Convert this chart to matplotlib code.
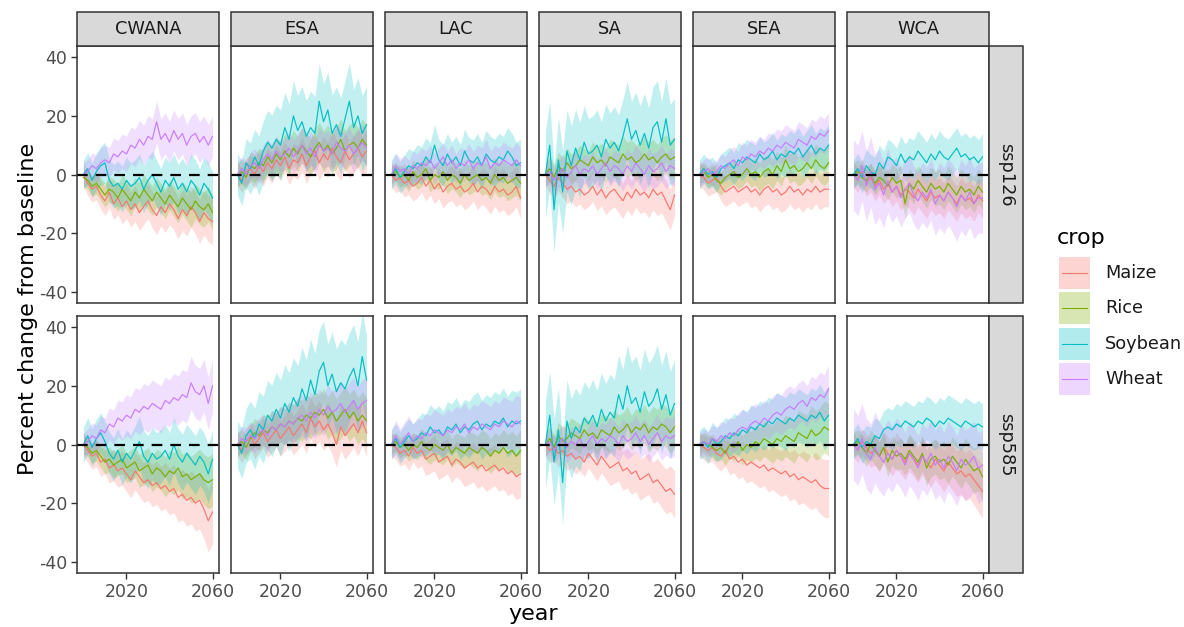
import numpy as np
import matplotlib
matplotlib.use("Agg")
import matplotlib.pyplot as plt
from matplotlib.patches import Rectangle

plt.rcParams['font.family'] = ['DejaVu Sans']
plt.rcParams['axes.unicode_minus'] = False

regions = ["CWANA", "ESA", "LAC", "SA", "SEA", "WCA"]
scenarios = ["ssp126", "ssp585"]
crops = ["Maize", "Rice", "Soybean", "Wheat"]
crop_colors = ["#F8766D", "#7CAE00", "#00BFC4", "#C77CFF"]

# mean values, every 2 years from 2000 to 2060
years = list(range(2000, 2061, 2))
# ribbon half-widths given once per decade
hw_years = [2000, 2010, 2020, 2030, 2040, 2050, 2060]

# ---- ssp126 ----
cwana126_maize = [0, -3, -5, -4, -7, -9, -6, -10, -8, -11, -9, -12, -10, -13, -11, -9, -12, -14, -11, -13, -10, -12, -15, -12, -14, -11, -13, -16, -13, -15, -16]
cwana126_rice = [-1, -2, -4, -3, -5, -7, -5, -6, -8, -5, -7, -9, -6, -8, -5, -7, -9, -6, -8, -10, -7, -9, -11, -8, -10, -12, -9, -11, -12, -10, -13]
cwana126_soybean = [0, 2, -2, 1, 3, 4, -2, -4, -3, -5, -2, -4, -3, -1, -5, -2, 0, -3, -6, -2, -4, -1, -5, -3, -6, -2, -4, -7, -3, -5, -8]
cwana126_wheat = [0, 1, 3, 2, 4, 5, 4, 7, 6, 8, 7, 10, 9, 12, 10, 13, 12, 18, 12, 14, 11, 15, 12, 14, 10, 13, 14, 11, 13, 10, 13]
cwana126_hw = [[4, 5, 6, 6, 7, 7, 8], [3, 4, 5, 5, 5, 6, 6], [5, 7, 8, 8, 8, 9, 9], [4, 5, 6, 7, 7, 7, 7]]

esa126_maize = [0, -2, 1, 2, 0, 3, 1, 4, 2, 5, 3, 6, 2, 5, 4, 7, 3, 6, 8, 4, 7, 5, 9, 6, 4, 8, 5, 7, 9, 6, 8]
esa126_rice = [0, 1, -1, 3, 2, 4, 3, 6, 4, 7, 5, 8, 6, 9, 7, 10, 8, 6, 9, 11, 8, 10, 7, 9, 12, 8, 10, 11, 9, 12, 10]
esa126_soybean = [0, -3, 4, 2, 6, 3, 8, 11, 9, 12, 10, 16, 12, 20, 15, 18, 13, 16, 14, 25, 18, 22, 14, 17, 13, 19, 25, 16, 20, 14, 17]
esa126_wheat = [0, 2, 0, 3, 4, 2, 5, 7, 5, 8, 6, 7, 9, 6, 8, 10, 7, 9, 6, 10, 8, 9, 7, 11, 9, 8, 10, 7, 9, 11, 9]
esa126_hw = [[4, 5, 5, 6, 6, 6, 7], [4, 5, 6, 6, 7, 7, 7], [7, 10, 12, 12, 13, 13, 13], [4, 5, 5, 6, 6, 6, 6]]

lac126_maize = [0, -2, -1, -3, -2, -4, -3, -1, -4, -2, -5, -3, -6, -4, -3, -5, -4, -6, -5, -3, -6, -4, -5, -7, -4, -6, -5, -7, -6, -4, -8]
lac126_rice = [0, 1, -1, 0, -2, 1, -1, 0, 2, -2, 0, -1, 1, -2, 0, -1, -3, 0, -2, -1, 0, -2, -1, -3, 0, -2, -1, -3, -2, -1, -3]
lac126_soybean = [0, 2, -1, 1, 3, 2, 4, 3, 6, 4, 10, 5, 3, 7, 4, 6, 3, 8, 5, 4, 6, 3, 7, 5, 4, 6, 5, 8, 6, 3, 4]
lac126_wheat = [0, 3, 1, 2, 0, 3, 2, 4, 3, 5, 2, 4, 6, 3, 5, 2, 4, 3, 5, 2, 4, 3, 6, 2, 4, 3, 5, 4, 3, 5, 3]
lac126_hw = [[4, 5, 5, 6, 6, 7, 7], [3, 4, 4, 5, 5, 6, 6], [5, 6, 7, 7, 8, 8, 8], [4, 5, 5, 5, 6, 6, 6]]

sa126_maize = [0, -2, -4, -1, -3, -5, -4, -6, -5, -7, -6, -4, -7, -5, -8, -6, -5, -7, -9, -6, -8, -5, -7, -6, -8, -5, -7, -6, -9, -12, -7]
sa126_rice = [0, 2, -1, 3, 1, 4, 2, 3, 5, 4, 3, 6, 4, 5, 3, 6, 5, 4, 7, 5, 6, 4, 5, 7, 5, 6, 4, 6, 7, 5, 6]
sa126_soybean = [0, 10, -12, 5, -6, 8, 3, 9, 5, 11, 7, 8, 10, 6, 12, 9, 11, 8, 13, 19, 12, 15, 10, 14, 9, 16, 18, 11, 19, 10, 12]
sa126_wheat = [0, 1, -2, 0, 2, -1, 1, 3, 0, 2, 1, 3, 0, 2, 4, 1, 3, 2, 0, 3, 1, 4, 2, 0, 3, 1, 2, 4, 1, 3, 2]
sa126_hw = [[4, 5, 5, 6, 6, 7, 7], [4, 5, 5, 6, 6, 6, 7], [15, 14, 12, 12, 13, 14, 14], [4, 5, 5, 5, 6, 6, 6]]

sea126_maize = [0, -1, -3, -2, -1, -4, -6, -5, -4, -6, -5, -4, -6, -5, -7, -5, -4, -6, -5, -7, -6, -4, -6, -5, -7, -5, -6, -4, -6, -5, -5]
sea126_rice = [0, 1, -1, 0, -2, -3, -1, 0, 1, -1, 0, 2, 0, 1, -1, 1, 2, 0, 3, 1, 5, 2, 3, 1, 2, 4, 2, 5, 3, 2, 4]
sea126_soybean = [0, 2, 0, 1, -1, 2, 3, 4, 2, 5, 4, 6, 5, 4, 7, 5, 6, 8, 5, 7, 6, 8, 7, 9, 6, 8, 10, 7, 9, 8, 10]
sea126_wheat = [0, 1, 2, 0, 1, 3, 2, 4, 5, 3, 6, 5, 7, 6, 8, 7, 9, 8, 10, 9, 11, 10, 9, 12, 11, 10, 13, 12, 14, 13, 15]
sea126_hw = [[4, 5, 5, 6, 6, 6, 6], [3, 4, 4, 5, 5, 5, 6], [5, 5, 6, 6, 7, 7, 7], [4, 4, 5, 5, 6, 6, 6]]

wca126_maize = [0, -2, 1, -3, -1, -4, -2, -5, -3, -6, -4, -7, -5, -6, -8, -5, -7, -9, -6, -8, -7, -9, -6, -8, -10, -7, -9, -8, -10, -7, -9]
wca126_rice = [0, 1, -1, -2, 0, -3, -1, -2, -4, -1, -3, -2, -10, -3, -5, -2, -4, -6, -3, -5, -4, -6, -3, -5, -7, -4, -6, -5, -7, -4, -6]
wca126_soybean = [0, 2, -1, 3, 1, 0, 4, 2, 6, 5, 3, 7, 4, 6, 5, 8, 6, 4, 7, 5, 8, 6, 5, 7, 9, 6, 7, 5, 6, 4, 6]
wca126_wheat = [0, -2, 3, -4, 1, -5, -3, -7, -2, -6, -4, -8, -5, -3, -7, -9, -6, -8, -5, -10, -7, -9, -6, -8, -11, -7, -9, -6, -10, -8, -8]
wca126_hw = [[4, 5, 5, 6, 6, 6, 6], [4, 4, 5, 5, 6, 6, 6], [5, 6, 6, 7, 7, 7, 8], [12, 12, 10, 10, 11, 12, 12]]

# ---- ssp585 ----
cwana585_maize = [0, -2, -4, -3, -6, -5, -8, -7, -9, -8, -10, -12, -9, -11, -13, -12, -14, -13, -15, -14, -16, -15, -18, -17, -19, -18, -20, -19, -22, -26, -23]
cwana585_rice = [0, -1, -3, -2, -4, -6, -5, -7, -6, -5, -8, -7, -6, -9, -8, -7, -10, -8, -9, -11, -9, -10, -8, -11, -10, -12, -11, -10, -12, -13, -12]
cwana585_soybean = [0, 3, -1, 2, 4, 1, -3, -5, -2, -6, -3, -5, -2, 1, -4, -6, -3, -5, -4, -2, -5, 0, -4, -6, -3, -5, -7, -4, -6, -10, -5]
cwana585_wheat = [0, 1, 3, 2, 5, 4, 7, 6, 9, 8, 10, 9, 12, 11, 13, 12, 14, 13, 12, 15, 14, 16, 15, 17, 16, 21, 18, 17, 20, 14, 20]
cwana585_hw = [[4, 5, 6, 7, 8, 9, 11], [3, 4, 5, 6, 7, 8, 9], [6, 7, 8, 9, 9, 10, 10], [4, 5, 7, 8, 8, 9, 9]]

esa585_maize = [0, -2, 1, 3, 0, 2, 4, 1, 3, 5, 2, 4, 6, 3, 5, 7, 4, 9, 6, 8, 5, 7, 4, 0, 6, 3, 5, 7, 4, 8, 4]
esa585_rice = [0, 1, -1, 2, 4, 3, 5, 4, 6, 5, 7, 6, 8, 7, 9, 8, 10, 9, 11, 10, 12, 9, 11, 8, 10, 12, 9, 11, 8, 10, 8]
esa585_soybean = [0, -3, 3, 5, 2, 7, 5, 10, 8, 12, 9, 14, 11, 16, 13, 19, 15, 22, 17, 25, 28, 20, 24, 18, 21, 19, 23, 26, 20, 30, 22]
esa585_wheat = [0, 2, 1, 3, 2, 4, 5, 3, 6, 5, 7, 6, 8, 7, 9, 10, 8, 11, 9, 12, 10, 13, 11, 12, 14, 11, 13, 15, 12, 14, 15]
esa585_hw = [[4, 5, 6, 7, 7, 8, 8], [4, 5, 6, 7, 7, 8, 8], [8, 11, 13, 14, 14, 15, 15], [4, 5, 6, 7, 7, 8, 8]]

lac585_maize = [0, -1, -3, -2, -4, -1, -3, -2, -5, -4, -3, -6, -5, -4, -7, -5, -6, -8, -7, -6, -8, -7, -9, -8, -7, -9, -8, -10, -9, -11, -10]
lac585_rice = [0, 1, -1, 0, -2, 0, -1, 1, -1, -2, 0, -1, -2, 0, -3, -1, -2, -3, -1, -2, -3, -1, -2, -4, -2, -3, -1, -3, -2, -4, -2]
lac585_soybean = [0, 2, -1, 1, 3, 1, 2, 4, 3, 6, 4, 5, 3, 6, 5, 7, 4, 6, 5, 7, 8, 5, 7, 6, 8, 7, 9, 6, 8, 7, 8]
lac585_wheat = [0, 3, 0, 2, 4, 1, 3, 2, 4, 3, 5, 4, 3, 5, 4, 6, 5, 7, 4, 6, 5, 7, 6, 5, 7, 6, 8, 7, 6, 8, 7]
lac585_hw = [[4, 5, 6, 6, 7, 7, 8], [3, 4, 5, 5, 6, 6, 7], [5, 6, 8, 9, 10, 10, 11], [5, 6, 7, 7, 8, 8, 9]]

sa585_maize = [0, -2, -1, -3, -2, -4, -3, -5, -4, -6, -3, -5, -7, -4, -6, -8, -7, -6, -9, -8, -10, -9, -12, -11, -10, -13, -12, -14, -16, -15, -17]
sa585_rice = [0, 2, -1, 3, 1, 2, 4, 3, 2, 5, 3, 4, 2, 5, 4, 3, 6, 4, 5, 7, 4, 6, 5, 7, 4, 6, 5, 7, 6, 4, 6]
sa585_soybean = [0, 10, -6, 5, -13, 8, 2, 6, 4, 9, 7, 10, 6, 12, 8, 11, 9, 17, 12, 20, 14, 16, 11, 18, 13, 15, 19, 12, 17, 10, 14]
sa585_wheat = [0, 1, -2, 0, 2, -1, 1, 0, 2, -1, 1, 3, 0, 2, 1, 3, 2, 0, 3, 1, 2, 4, 1, 3, 0, 2, 4, 1, 3, 2, 3]
sa585_hw = [[4, 5, 5, 6, 7, 7, 8], [4, 5, 5, 6, 6, 7, 7], [15, 14, 12, 13, 14, 15, 15], [4, 5, 5, 6, 6, 6, 7]]

sea585_maize = [0, -1, -2, -1, -3, -4, -2, -5, -4, -6, -5, -7, -6, -7, -8, -7, -9, -8, -9, -10, -9, -11, -10, -12, -11, -12, -13, -12, -14, -15, -15]
sea585_rice = [0, 1, 0, -1, -2, -1, -3, 0, -1, 1, -2, 0, -1, 1, 0, 2, 1, 0, 2, 1, 3, 2, 1, 4, 3, 2, 5, 3, 4, 6, 5]
sea585_soybean = [0, 1, -1, 2, 0, 1, 3, 2, 4, 3, 5, 4, 6, 5, 7, 6, 8, 7, 9, 8, 7, 9, 8, 10, 9, 8, 10, 9, 11, 8, 10]
sea585_wheat = [0, 1, 0, 2, 1, 3, 2, 4, 3, 5, 6, 5, 7, 8, 7, 9, 8, 10, 11, 10, 12, 13, 12, 14, 15, 13, 16, 15, 17, 16, 19]
sea585_hw = [[4, 5, 6, 7, 8, 9, 10], [3, 4, 5, 6, 7, 8, 9], [5, 6, 7, 8, 9, 9, 10], [4, 5, 6, 6, 7, 7, 8]]

wca585_maize = [0, -2, 1, -1, -3, -2, -4, -1, -3, -5, -2, -4, -6, -3, -5, -7, -4, -6, -8, -5, -7, -9, -6, -8, -10, -9, -11, -10, -12, -14, -16]
wca585_rice = [0, 1, -1, -3, 0, -2, -4, -1, -6, -2, -4, -3, -5, -2, -4, -6, -3, -8, -5, -4, -6, -5, -7, -4, -6, -8, -5, -7, -9, -8, -11]
wca585_soybean = [0, 2, -1, 1, 0, 3, 2, 5, 6, 5, 7, 6, 8, 7, 6, 8, 7, 9, 8, 6, 8, 7, 9, 8, 7, 6, 8, 7, 6, 7, 6]
wca585_wheat = [0, -2, 2, -3, -5, -1, -4, -6, -3, -5, -2, -4, -7, -3, -5, -8, -4, -6, -3, -7, -5, -8, -4, -6, -9, -5, -7, -6, -4, -8, -7]
wca585_hw = [[4, 5, 6, 6, 7, 8, 9], [4, 5, 5, 6, 6, 7, 8], [5, 6, 7, 7, 8, 8, 8], [12, 12, 11, 11, 12, 12, 12]]

panels = {
    ("CWANA", "ssp126"): ([cwana126_maize, cwana126_rice, cwana126_soybean, cwana126_wheat], cwana126_hw),
    ("ESA", "ssp126"): ([esa126_maize, esa126_rice, esa126_soybean, esa126_wheat], esa126_hw),
    ("LAC", "ssp126"): ([lac126_maize, lac126_rice, lac126_soybean, lac126_wheat], lac126_hw),
    ("SA", "ssp126"): ([sa126_maize, sa126_rice, sa126_soybean, sa126_wheat], sa126_hw),
    ("SEA", "ssp126"): ([sea126_maize, sea126_rice, sea126_soybean, sea126_wheat], sea126_hw),
    ("WCA", "ssp126"): ([wca126_maize, wca126_rice, wca126_soybean, wca126_wheat], wca126_hw),
    ("CWANA", "ssp585"): ([cwana585_maize, cwana585_rice, cwana585_soybean, cwana585_wheat], cwana585_hw),
    ("ESA", "ssp585"): ([esa585_maize, esa585_rice, esa585_soybean, esa585_wheat], esa585_hw),
    ("LAC", "ssp585"): ([lac585_maize, lac585_rice, lac585_soybean, lac585_wheat], lac585_hw),
    ("SA", "ssp585"): ([sa585_maize, sa585_rice, sa585_soybean, sa585_wheat], sa585_hw),
    ("SEA", "ssp585"): ([sea585_maize, sea585_rice, sea585_soybean, sea585_wheat], sea585_hw),
    ("WCA", "ssp585"): ([wca585_maize, wca585_rice, wca585_soybean, wca585_wheat], wca585_hw),
}

W, H = 1184, 627
fig = plt.figure(figsize=(W / 100, H / 100), dpi=100)

# panel layout in pixels
col_left = [77, 231, 385, 539, 693, 847]
panel_w = 142
row_top = [46, 316]
panel_h = 257
border = "#333333"


def px_axes(x0, y0, w, h):
    return fig.add_axes([x0 / W, 1 - (y0 + h) / H, w / W, h / H])


for r, scen in enumerate(scenarios):
    for c, reg in enumerate(regions):
        ax = px_axes(col_left[c], row_top[r], panel_w, panel_h)
        means, hws = panels[(reg, scen)]
        for m, hw, col in zip(means, hws, crop_colors):
            m = np.array(m, dtype=float)
            half = np.interp(years, hw_years, hw)
            ax.fill_between(years, m - half, m + half, color=col, alpha=0.24, lw=0)
        for m, col in zip(means, crop_colors):
            ax.plot(years, m, color=col, lw=0.85)
        ax.axhline(0, color="black", lw=1.6, ls=(0, (4.8, 3.6)))
        ax.set_xlim(1997, 2063)
        ax.set_ylim(-43.8, 43.8)
        ax.set_xticks([2020, 2060])
        ax.set_yticks([-40, -20, 0, 20, 40])
        for s in ax.spines.values():
            s.set_color(border)
            s.set_linewidth(1.1)
        ax.tick_params(colors=border, length=4, width=1, labelsize=12.5,
                       labelcolor="#4D4D4D", pad=3)
        if r == 0:
            ax.tick_params(axis="x", length=0, labelbottom=False)
        if c > 0:
            ax.tick_params(axis="y", length=0, labelleft=False)

# overlay in pixel coordinates for strips, titles and legend
lay = fig.add_axes([0, 0, 1, 1])
lay.set_xlim(0, W)
lay.set_ylim(H, 0)
lay.axis("off")

for c, reg in enumerate(regions):
    lay.add_patch(Rectangle((col_left[c], 12), panel_w, 34, facecolor="#D9D9D9",
                            edgecolor=border, lw=1.1))
    lay.text(col_left[c] + panel_w / 2, 29, reg, ha="center", va="center",
             fontsize=12.8, color="#1A1A1A")

for r, scen in enumerate(scenarios):
    lay.add_patch(Rectangle((989, row_top[r]), 34, panel_h, facecolor="#D9D9D9",
                            edgecolor=border, lw=1.1))
    lay.text(1006, row_top[r] + panel_h / 2, scen, ha="center", va="center",
             rotation=-90, fontsize=12.8, color="#1A1A1A")

lay.text(533, 614, "year", ha="center", va="center", fontsize=16)
lay.text(28, 309, "Percent change from baseline", ha="center", va="center",
         rotation=90, fontsize=16)

# legend
lay.text(1057, 238, "crop", ha="left", va="center", fontsize=16)
for i, (crop, col) in enumerate(zip(crops, crop_colors)):
    top = 257 + 35.3 * i
    lay.add_patch(Rectangle((1059, top), 31, 32, facecolor=col, alpha=0.3, lw=0))
    lay.plot([1062, 1087], [top + 16, top + 16], color=col, lw=0.8)
    lay.text(1105, top + 16, crop, ha="left", va="center", fontsize=12.8,
             color="#1A1A1A")

fig.savefig("out.png", dpi=100)
